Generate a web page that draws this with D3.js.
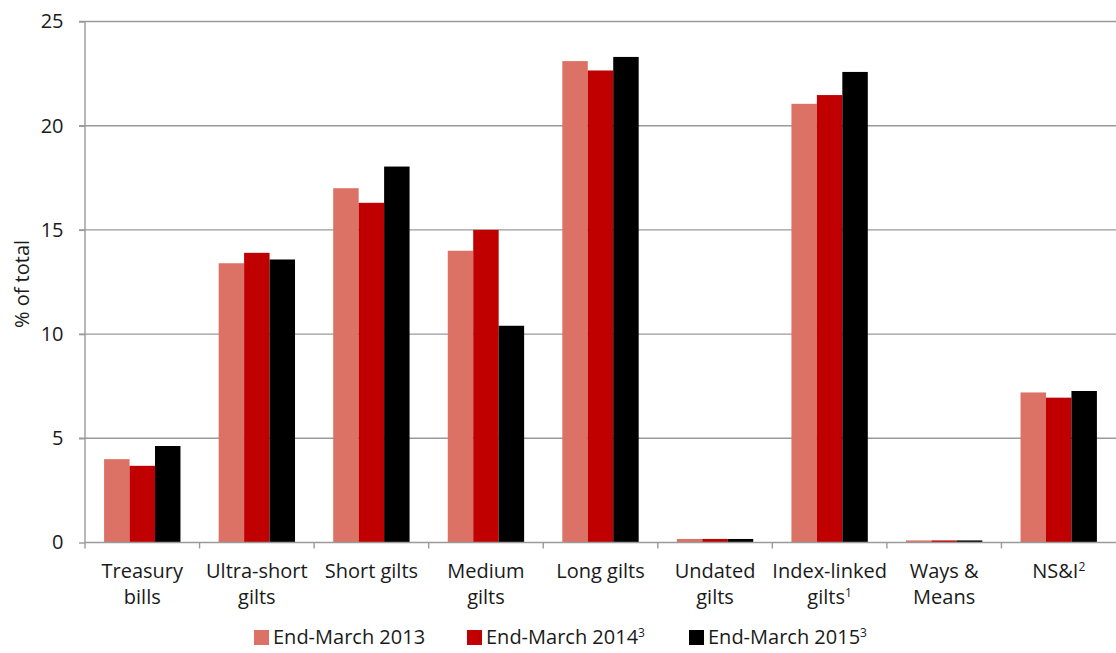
<!DOCTYPE html>
<html>
<head>
<meta charset="utf-8">
<script src="https://cdn.jsdelivr.net/npm/d3@7"></script>
<style>
  html, body { margin: 0; padding: 0; background: #fff; }
  svg text { font-family: "Open Sans", "Noto Sans", sans-serif; fill: #1a1a1a; }
</style>
</head>
<body>
<svg id="chart" width="1116" height="653"></svg>
<script>
// Categories (label lines; a trailing "^n" marks a superscript note)
const categories = ["Treasury bills", "Ultra-short gilts", "Short gilts", "Medium gilts", "Long gilts",
                    "Undated gilts", "Index-linked gilts", "Ways & Means", "NS&I"];
const categoryLines = [
  ["Treasury", "bills"], ["Ultra-short", "gilts"], ["Short gilts"], ["Medium", "gilts"], ["Long gilts"],
  ["Undated", "gilts"], ["Index-linked", "gilts^1"], ["Ways &", "Means"], ["NS&I^2"]
];

// Share of total debt (%) at each year end
const values2013 = [4.0, 13.4, 17.0, 14.0, 23.1, 0.17, 21.05, 0.1, 7.2];
const values2014 = [3.68, 13.9, 16.3, 15.0, 22.65, 0.17, 21.47, 0.1, 6.95];
const values2015 = [4.63, 13.58, 18.04, 10.4, 23.3, 0.17, 22.58, 0.1, 7.27];

const seriesNames = ["End-March 2013", "End-March 2014^3", "End-March 2015^3"];
const seriesColors = ["#dc7166", "#c00000", "#000000"];
const yTicks = [0, 5, 10, 15, 20, 25];

const series = [values2013, values2014, values2015];

const svg = d3.select("#chart");
const margin = { left: 85, right: 0, top: 21.5, bottom: 110.5 };
const W = 1116, H = 653;
const FONT = 20;

const x = d3.scaleBand().domain(categories).range([margin.left, W - margin.right]).paddingInner(0).paddingOuter(0);
const xInner = d3.scaleBand().domain(d3.range(series.length)).range([0, x.bandwidth()]).paddingInner(0).paddingOuter(0.75);
const y = d3.scaleLinear().domain([0, 25]).range([H - margin.bottom, margin.top]);

// Appends text with an optional "^n" superscript suffix
function richText(sel, str) {
  const parts = str.split("^");
  sel.append("tspan").text(parts[0]);
  if (parts[1]) sel.append("tspan").attr("font-size", 12).attr("dy", -7).text(parts[1]);
}

// Horizontal gridlines
svg.append("g")
  .selectAll("line")
  .data(yTicks.filter(d => d > 0))
  .join("line")
  .attr("x1", margin.left - 6).attr("x2", W)
  .attr("y1", d => y(d)).attr("y2", d => y(d))
  .attr("stroke", "#9a9a9a").attr("stroke-width", 1.4);

// Bars
const groups = svg.append("g")
  .selectAll("g")
  .data(categories)
  .join("g")
  .attr("transform", d => `translate(${x(d)},0)`);

groups.selectAll("rect")
  .data((d, i) => series.map((s, k) => ({ k, v: s[i] })))
  .join("rect")
  .attr("x", d => xInner(d.k))
  .attr("width", xInner.bandwidth())
  .attr("y", d => y(d.v))
  .attr("height", d => y(0) - y(d.v))
  .attr("fill", d => seriesColors[d.k]);

// Y axis
const yAxis = d3.axisLeft(y).tickValues(yTicks).tickSize(6).tickPadding(15.5);
const gy = svg.append("g").attr("transform", `translate(${margin.left},0)`).call(yAxis);
gy.select(".domain").attr("stroke", "#9a9a9a").attr("stroke-width", 1.4).attr("d", `M0,${y(0)}V${y(25)}`);
gy.selectAll(".tick line").attr("stroke", "#9a9a9a").attr("stroke-width", 1.4);
gy.selectAll(".tick text").attr("font-size", FONT).attr("fill", "#1a1a1a")
  .style("font-family", '"Open Sans", "Noto Sans", sans-serif');

// X axis baseline and category separators
const xAxis = d3.axisBottom(x).tickSize(0).tickFormat("");
const gx = svg.append("g").attr("transform", `translate(0,${y(0)})`).call(xAxis);
gx.select(".domain").attr("stroke", "#9a9a9a").attr("stroke-width", 1.4).attr("d", `M${margin.left},0H${W}`);
gx.selectAll(".tick").remove();
gx.selectAll("line.sep")
  .data(categories.map(c => x(c)))
  .join("line")
  .attr("class", "sep")
  .attr("x1", d => d).attr("x2", d => d)
  .attr("y1", 0).attr("y2", 6)
  .attr("stroke", "#9a9a9a").attr("stroke-width", 1.4);

// Category labels
svg.append("g")
  .selectAll("text")
  .data(categories)
  .join("text")
  .attr("text-anchor", "middle")
  .attr("font-size", FONT)
  .each(function (d, i) {
    const t = d3.select(this);
    const cx = x(d) + x.bandwidth() / 2;
    categoryLines[i].forEach((line, j) => {
      const parts = line.split("^");
      t.append("tspan").attr("x", cx).attr("y", 578 + j * 26).text(parts[0]);
      if (parts[1]) t.append("tspan").attr("font-size", 12).attr("dy", -7).text(parts[1]);
    });
  });

// Y axis title
svg.append("text")
  .attr("transform", `translate(29,${(y(0) + y(25)) / 2 + 2}) rotate(-90)`)
  .attr("text-anchor", "middle")
  .attr("font-size", FONT)
  .text("% of total");

// Legend
const legendX = [254, 467, 689];
const legend = svg.append("g")
  .selectAll("g")
  .data(seriesNames)
  .join("g")
  .attr("transform", (d, i) => `translate(${legendX[i]},630)`);
legend.append("rect").attr("width", 15).attr("height", 15).attr("fill", (d, i) => seriesColors[i]);
legend.append("text")
  .attr("x", 19).attr("y", 13.5)
  .attr("font-size", FONT)
  .each(function (d) { richText(d3.select(this), d); });
</script>
</body>
</html>
